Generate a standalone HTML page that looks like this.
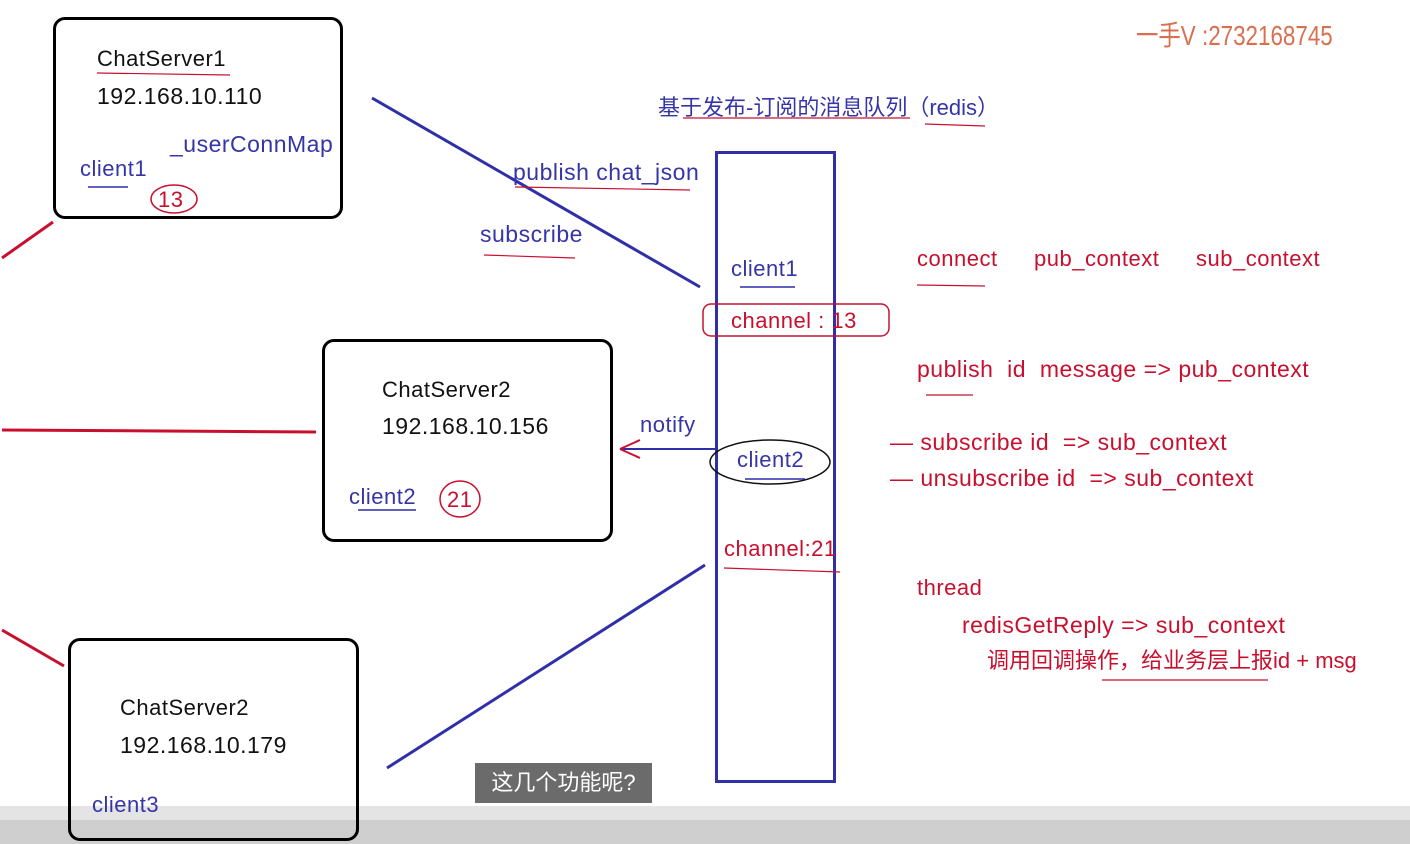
<!DOCTYPE html>
<html><head><meta charset="utf-8"><style>
body{margin:0;width:1410px;height:844px;background:#fff;position:relative;overflow:hidden;font-family:"Liberation Sans","Noto Sans CJK SC",sans-serif;}
.t{position:absolute;white-space:nowrap;font-size:22px;line-height:1;letter-spacing:0.5px;}
.k{color:#111}.b{color:#3535a8}.r{color:#c8102e}
.box{position:absolute;border:3px solid #000;border-radius:12px;box-sizing:border-box;}
</style></head><body>
<svg width="1410" height="844" style="position:absolute;left:0;top:0">
<line x1="372" y1="98" x2="700" y2="287" stroke="#2f2fa8" stroke-width="3"/>
<line x1="387" y1="768" x2="705" y2="565" stroke="#2f2fa8" stroke-width="3"/>
<line x1="2" y1="258" x2="53" y2="222" stroke="#c8102e" stroke-width="3"/>
<line x1="2" y1="430" x2="316" y2="432" stroke="#c8102e" stroke-width="3"/>
<line x1="2" y1="630" x2="64" y2="666" stroke="#c8102e" stroke-width="3"/>
<rect x="716.5" y="152.5" width="118" height="629" fill="none" stroke="#2f2fa8" stroke-width="3"/>
<rect x="703" y="304" width="186" height="32" rx="8" fill="none" stroke="#c8102e" stroke-width="1.5"/>
<ellipse cx="770" cy="462" rx="60" ry="22" fill="none" stroke="#111" stroke-width="1.5"/>
<ellipse cx="174" cy="199" rx="23" ry="14" fill="none" stroke="#c8102e" stroke-width="1.5"/>
<ellipse cx="460" cy="499" rx="20" ry="18" fill="none" stroke="#c8102e" stroke-width="1.5"/>
<line x1="620" y1="449" x2="715" y2="449" stroke="#2f2fa8" stroke-width="2"/>
<path d="M620 449 L640 440 M620 449 L640 458" stroke="#c8102e" stroke-width="2" fill="none"/>
<g stroke="#c8102e" stroke-width="1.2" fill="none">
<line x1="97" y1="73" x2="230" y2="75"/><line x1="683" y1="118" x2="910" y2="118"/>
<line x1="925" y1="124" x2="985" y2="126"/><line x1="917" y1="285" x2="985" y2="286"/>
<line x1="926" y1="395" x2="973" y2="395"/><line x1="724" y1="568" x2="840" y2="572"/>
<line x1="1102" y1="680" x2="1268" y2="680"/><line x1="484" y1="255" x2="575" y2="258"/>
<line x1="515" y1="187" x2="690" y2="190"/></g>
<g stroke="#2f2fa8" stroke-width="1.5"><line x1="88" y1="187" x2="128" y2="187"/><line x1="358" y1="510" x2="416" y2="510"/><line x1="740" y1="287" x2="795" y2="287"/><line x1="745" y1="479" x2="805" y2="479"/></g>
<rect x="0" y="806" width="1410" height="38" fill="#e4e4e4"/>
<rect x="0" y="820" width="1410" height="24" fill="#cfcfcf"/>
</svg>
<div class="box" style="left:53px;top:17px;width:290px;height:202px"></div>
<div class="box" style="left:322px;top:339px;width:291px;height:203px"></div>
<div class="box" style="left:68px;top:638px;width:291px;height:203px"></div>
<div class="t k" style="left:97px;top:48px">ChatServer1</div>
<div class="t k" style="left:97px;top:85px;font-size:23px">192.168.10.110</div>
<div class="t b" style="left:170px;top:133px;font-size:23px">_userConnMap</div>
<div class="t b" style="left:80px;top:158px">client1</div>
<div class="t r" style="left:158px;top:189px">13</div>
<div class="t k" style="left:382px;top:379px">ChatServer2</div>
<div class="t k" style="left:382px;top:415px;font-size:23px">192.168.10.156</div>
<div class="t b" style="left:349px;top:486px">client2</div>
<div class="t r" style="left:447px;top:489px">21</div>
<div class="t k" style="left:120px;top:697px">ChatServer2</div>
<div class="t k" style="left:120px;top:734px;font-size:23px">192.168.10.179</div>
<div class="t b" style="left:92px;top:794px">client3</div>
<div class="t b" style="left:658px;top:97px;letter-spacing:0">基于发布-订阅的消息队列（redis）</div>
<div class="t b" style="left:513px;top:161px;font-size:23px">publish chat_json</div>
<div class="t b" style="left:480px;top:223px;font-size:23px">subscribe</div>
<div class="t b" style="left:731px;top:258px">client1</div>
<div class="t r" style="left:731px;top:310px">channel : 13</div>
<div class="t b" style="left:640px;top:414px">notify</div>
<div class="t b" style="left:737px;top:449px">client2</div>
<div class="t r" style="left:724px;top:538px">channel:21</div>
<div class="t r" style="left:917px;top:248px">connect</div>
<div class="t r" style="left:1034px;top:248px">pub_context</div>
<div class="t r" style="left:1196px;top:248px">sub_context</div>
<div class="t r" style="left:917px;top:358px;font-size:23px">publish &nbsp;id &nbsp;message =&gt; pub_context</div>
<div class="t r" style="left:890px;top:431px;font-size:23px">— subscribe id &nbsp;=&gt; sub_context</div>
<div class="t r" style="left:890px;top:467px;font-size:23px">— unsubscribe id &nbsp;=&gt; sub_context</div>
<div class="t r" style="left:917px;top:577px">thread</div>
<div class="t r" style="left:962px;top:614px;font-size:23px">redisGetReply =&gt; sub_context</div>
<div class="t r" style="left:987px;top:650px;letter-spacing:0">调用回调操作，给业务层上报id + msg</div>
<div class="t" style="left:1136px;top:22px;font-size:28px;color:#d8704f;transform:scaleX(0.8);transform-origin:left;letter-spacing:0">一手V :2732168745</div>
<div style="position:absolute;left:475px;top:763px;width:177px;height:40px;background:#6b6b6b;color:#fff;font-size:22px;line-height:40px;text-align:center">这几个功能呢?</div>
</body></html>
